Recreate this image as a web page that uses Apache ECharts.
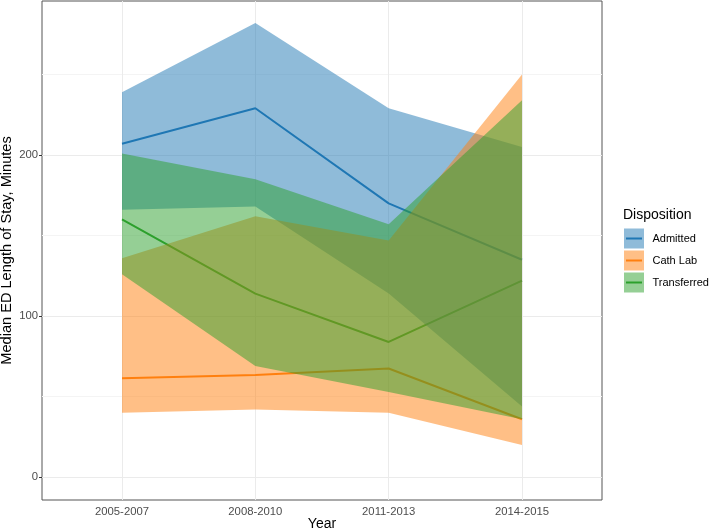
<!DOCTYPE html>
<html><head><meta charset="utf-8">
<script src="https://cdn.jsdelivr.net/npm/echarts@6/dist/echarts.min.js"></script>
<style>html,body{margin:0;padding:0;background:#fff}#c{width:709px;height:532px}</style>
</head><body><div id="c"></div>
<script>
const categories = ['2005-2007', '2008-2010', '2011-2013', '2014-2015'];
const admittedMedian = [207, 229, 170, 135];
const admittedLower = [166, 168, 114, 44];
const admittedUpper = [239, 282, 229, 205];
const cathMedian = [61.5, 63.5, 67.5, 36];
const cathLower = [40, 42, 40, 20];
const cathUpper = [136, 162, 147, 250];
const transMedian = [160, 114, 84, 122];
const transLower = [126, 69, 53, 36];
const transUpper = [201, 185, 157, 234];
const yTicks = [0, 100, 200];
const yMinor = [50, 150, 250];
const groups = ['Admitted', 'Cath Lab', 'Transferred'];
const colors = ['#1f77b4', '#ff7f0e', '#2ca02c'];

const FONT = '"Liberation Sans", Arial, sans-serif';
const xs = categories.map((c, i) => i + 1);
const pts = arr => arr.map((v, i) => [xs[i], v]);

const medians = [admittedMedian, cathMedian, transMedian];
const lowers = [admittedLower, cathLower, transLower];
const uppers = [admittedUpper, cathUpper, transUpper];

const series = [];
// grid lines
series.push({
  type: 'line', data: [], silent: true,
  markLine: {
    silent: true, symbol: 'none', z: 1, animation: false,
    label: { show: false },
    data: [
      ...yMinor.map(v => ({ yAxis: v, lineStyle: { color: '#f4f4f4', width: 1, type: 'solid' } })),
      ...yTicks.map(v => ({ yAxis: v, lineStyle: { color: '#ebebeb', width: 1, type: 'solid' } })),
      ...xs.map(v => ({ xAxis: v, lineStyle: { color: '#ebebeb', width: 1, type: 'solid' } }))
    ]
  }
});
// median lines (under ribbons)
groups.forEach((g, k) => {
  series.push({
    name: g, type: 'line', data: pts(medians[k]), symbol: 'none', z: 2,
    lineStyle: { color: colors[k], width: 2 }, itemStyle: { color: colors[k] }
  });
});
// ribbons
groups.forEach((g, k) => {
  const lo = lowers[k], up = uppers[k];
  series.push({
    type: 'custom', z: 3, silent: true, clip: true,
    data: xs.map((x, i) => [x, lo[i], up[i]]),
    renderItem: (params, api) => {
      if (params.dataIndex !== 0) return null;
      const top = xs.map((x, i) => api.coord([x, up[i]]));
      const bot = xs.map((x, i) => api.coord([x, lo[i]])).reverse();
      return {
        type: 'polygon',
        shape: { points: top.concat(bot) },
        style: { fill: colors[k], opacity: 0.5 }
      };
    }
  });
});

// legend graphics
const legendEls = [{
  type: 'text', x: 623, y: 215,
  style: { text: 'Disposition', font: '14px ' + FONT, fill: '#000', verticalAlign: 'middle' }
}];
groups.forEach((g, k) => {
  const y0 = 228.5 + k * 22;
  legendEls.push({ type: 'rect', shape: { x: 624, y: y0, width: 20, height: 20 }, style: { fill: colors[k], opacity: 0.5 } });
  legendEls.push({ type: 'line', shape: { x1: 626, y1: y0 + 10, x2: 642, y2: y0 + 10 }, style: { stroke: colors[k], lineWidth: 2 } });
  legendEls.push({ type: 'text', x: 652.5, y: y0 + 10,
    style: { text: g, font: '11px ' + FONT, fill: '#000', verticalAlign: 'middle' } });
});

const chart = echarts.init(document.getElementById('c'), null, { renderer: 'canvas' });
chart.setOption({
  animation: false,
  backgroundColor: '#fff',
  textStyle: { fontFamily: FONT },
  grid: { left: 42, right: 107, top: 1, bottom: 32, show: true, borderColor: '#555', borderWidth: 1, backgroundColor: '#fff', containLabel: false, outerBoundsMode: 'none' },
  xAxis: {
    type: 'value', min: 0.4, max: 4.6,
    name: 'Year', nameLocation: 'middle', nameGap: 17, nameMoveOverlap: false,
    nameTextStyle: { fontSize: 14, color: '#000', fontFamily: FONT, verticalAlign: 'top' },
    axisLine: { show: false },
    axisTick: { show: true, customValues: xs, length: 3, lineStyle: { color: '#333' } },
    axisLabel: { customValues: xs, formatter: v => categories[Math.round(v) - 1], color: '#4d4d4d', fontSize: 11.3, fontFamily: FONT, margin: 6 },
    splitLine: { show: false }
  },
  yAxis: {
    type: 'value', min: -14.1, max: 295.6,
    name: 'Median ED Length of Stay, Minutes', nameLocation: 'middle', nameGap: 27.5, nameMoveOverlap: false,
    nameTextStyle: { fontSize: 14.6, color: '#000', fontFamily: FONT },
    axisLine: { show: false },
    axisTick: { show: true, customValues: yTicks, length: 3, lineStyle: { color: '#333' } },
    axisLabel: { customValues: yTicks, color: '#4d4d4d', fontSize: 11.3, fontFamily: FONT, margin: 4 },
    splitLine: { show: false }
  },
  graphic: legendEls,
  series: series
});
</script></body></html>
